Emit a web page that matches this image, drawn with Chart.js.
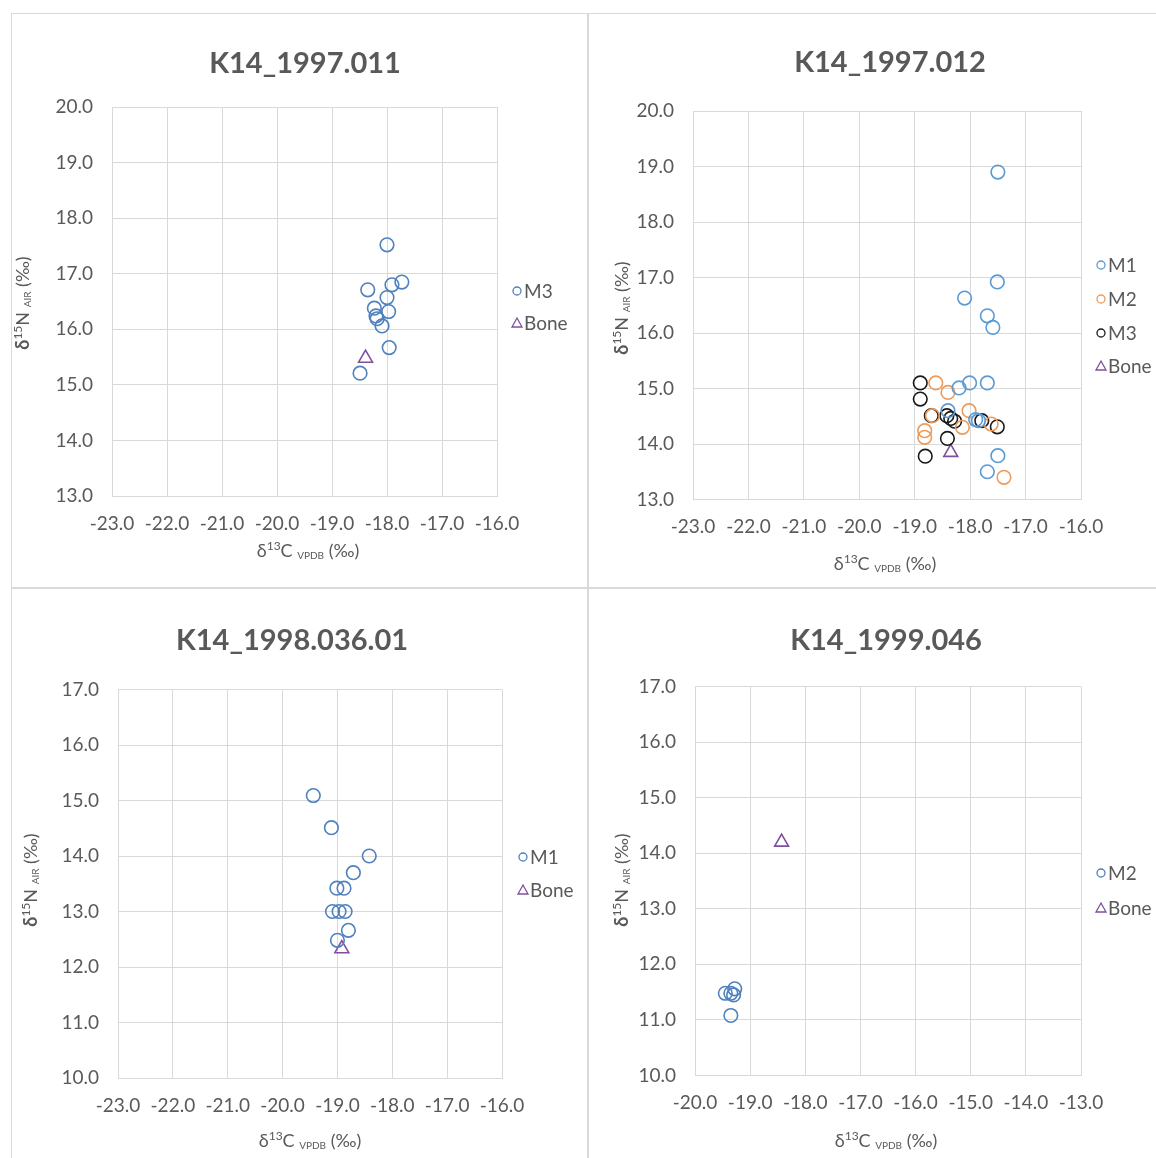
<!DOCTYPE html>
<html>
<head>
<meta charset="utf-8">
<script src="https://cdn.jsdelivr.net/npm/chart.js@4.4.1/dist/chart.umd.min.js"></script>
<style>
  html, body { margin: 0; padding: 0; background: #fff; overflow: hidden; }
  body { width: 1156px; height: 1158px; position: relative; }
  .panel { position: absolute; border: 1px solid #d9d9d9; background: #fff; }
  .panel canvas { display: block; }
</style>
</head>
<body>
<div class="panel" id="p1"><canvas id="c1"></canvas></div>
<div class="panel" id="p2"><canvas id="c2"></canvas></div>
<div class="panel" id="p3"><canvas id="c3"></canvas></div>
<div class="panel" id="p4"><canvas id="c4"></canvas></div>
<script>
// ---- data (d13C VPDB, d15N AIR) ----
const titles = ['K14_1997.011', 'K14_1997.012', 'K14_1998.036.01', 'K14_1999.046'];

// K14_1997.011
const c1M3 = [-18.0, -17.73, -17.91, -18.35, -18.0, -18.23, -17.97, -18.2, -18.18, -18.09, -17.96, -18.49];
const n1M3 = [17.52, 16.85, 16.8, 16.71, 16.57, 16.38, 16.32, 16.24, 16.19, 16.06, 15.67, 15.21];
const c1Bone = [-18.39];
const n1Bone = [15.48];

// K14_1997.012
const c2M1 = [-17.5, -17.51, -18.1, -17.69, -17.59, -18.2, -18.01, -17.69, -18.4, -17.9, -17.85, -17.5, -17.69];
const n2M1 = [18.9, 16.92, 16.63, 16.31, 16.1, 15.01, 15.1, 15.1, 14.6, 14.44, 14.42, 13.79, 13.5];
const c2M2 = [-18.62, -18.4, -18.02, -18.14, -17.62, -18.82, -18.82, -18.68, -17.39];
const n2M2 = [15.1, 14.93, 14.6, 14.3, 14.36, 14.24, 14.12, 14.51, 13.4];
const c2M3 = [-18.9, -18.9, -18.7, -18.42, -18.35, -18.28, -17.79, -17.51, -18.41, -18.81];
const n2M3 = [15.1, 14.81, 14.51, 14.51, 14.46, 14.41, 14.42, 14.31, 14.1, 13.78];
const c2Bone = [-18.35];
const n2Bone = [13.85];

// K14_1998.036.01
const c3M1 = [-19.44, -19.11, -18.42, -18.71, -19.01, -18.88, -19.09, -18.97, -18.86, -18.8, -19.0];
const n3M1 = [15.09, 14.51, 14.0, 13.7, 13.42, 13.42, 13.0, 13.0, 13.0, 12.66, 12.48];
const c3Bone = [-18.92];
const n3Bone = [12.33];

// K14_1999.046
const c4M2 = [-19.45, -19.35, -19.28, -19.3, -19.35];
const n4M2 = [11.48, 11.48, 11.56, 11.45, 11.08];
const c4Bone = [-18.43];
const n4Bone = [14.2];

// axis ranges
const xRange = [[-23, -16], [-23, -16], [-23, -16], [-20, -13]];
const yRange = [[13, 20], [13, 20], [10, 17], [10, 17]];

const BLUE = '#4f81bd';
const LBLUE = '#5b9bd5';
const ORANGE = '#ee9a58';
const BLACK = '#1a1a1a';
const PURPLE = '#7f4f9f';
const GRID = '#d9d9d9';
const TEXT = '#595959';
const FONT = 'Lato, "Open Sans", sans-serif';

function pts(xs, ys) { return xs.map((x, i) => ({ x, y: ys[i] })); }

function circles(label, xs, ys, color) {
  return { label, data: pts(xs, ys), pointStyle: 'circle', pointRadius: 6.8,
           borderColor: color, backgroundColor: 'rgba(0,0,0,0)', borderWidth: 1.6 };
}
function bone(xs, ys) {
  return { label: 'Bone', data: pts(xs, ys), pointStyle: 'triangle', pointRadius: 8,
           borderColor: PURPLE, backgroundColor: 'rgba(0,0,0,0)', borderWidth: 1.6 };
}

const seriesSets = [
  [circles('M3', c1M3, n1M3, BLUE), bone(c1Bone, n1Bone)],
  [circles('M1', c2M1, n2M1, LBLUE), circles('M2', c2M2, n2M2, ORANGE),
   circles('M3', c2M3, n2M3, BLACK), bone(c2Bone, n2Bone)],
  [circles('M1', c3M1, n3M1, BLUE), bone(c3Bone, n3Bone)],
  [circles('M2', c4M2, n4M2, BLUE), bone(c4Bone, n4Bone)]
];

// ---- layout (page pixels) ----
const layouts = [
  { box: [11, 13, 577, 575], area: [112, 497, 107, 496], title: [305, 64], xt: [308, 550], yt: [22, 303], leg: [517, [291, 323]] },
  { box: [588, 13, 577, 575], area: [693, 1081, 111, 499.5], title: [890, 63], xt: [885, 563], yt: [621, 308], leg: [1101, [265, 299, 333, 366]] },
  { box: [11, 588, 577, 577], area: [118, 502, 689.5, 1078], title: [292, 641], xt: [310, 1140], yt: [30, 880], leg: [523, [857, 890]] },
  { box: [588, 588, 577, 577], area: [695, 1081, 686.5, 1075.5], title: [886, 641], xt: [886, 1140], yt: [621, 880], leg: [1101, [873, 908]] }
];

function richText(ctx, parts, cx, cy) {
  let w = 0;
  parts.forEach(p => { ctx.font = p.w + ' ' + p.s + 'px ' + FONT; p.width = ctx.measureText(p.t).width; w += p.width; });
  let x = cx - w / 2;
  ctx.textAlign = 'left';
  ctx.textBaseline = 'alphabetic';
  parts.forEach(p => {
    ctx.font = p.w + ' ' + p.s + 'px ' + FONT;
    ctx.fillText(p.t, x, cy + (p.dy || 0));
    x += p.width;
  });
}

const decor = {
  id: 'decor',
  afterDraw(chart) {
    const L = chart.options.plugins.decor;
    const ox = L.box[0] + 1, oy = L.box[1] + 1;
    const ctx = chart.ctx;
    ctx.save();
    ctx.fillStyle = TEXT;
    // title
    ctx.font = 'bold 29px ' + FONT;
    ctx.textAlign = 'center';
    ctx.textBaseline = 'middle';
    ctx.fillText(L.name, L.title[0] - ox, L.title[1] - oy);
    // x axis title
    richText(ctx, [
      { t: 'δ', s: 18, w: 'normal' },
      { t: '13', s: 12, w: 'normal', dy: -7 },
      { t: 'C ', s: 18, w: 'normal' },
      { t: 'VPDB', s: 10, w: 'normal', dy: 2 },
      { t: ' (‰)', s: 18, w: 'normal' }
    ], L.xt[0] - ox, L.xt[1] - oy + 7);
    // y axis title
    ctx.save();
    ctx.translate(L.yt[0] - ox + 7, L.yt[1] - oy);
    ctx.rotate(-Math.PI / 2);
    richText(ctx, [
      { t: 'δ', s: 18, w: 'bold' },
      { t: '15', s: 12, w: 'normal', dy: -7 },
      { t: 'N ', s: 18, w: 'normal' },
      { t: 'AIR', s: 10, w: 'normal', dy: 2 },
      { t: ' (‰)', s: 18, w: 'normal' }
    ], 0, 0);
    ctx.restore();
    // legend
    chart.data.datasets.forEach((ds, i) => {
      const mx = L.leg[0] - ox, my = L.leg[1][i] - oy;
      ctx.strokeStyle = ds.borderColor;
      ctx.lineWidth = 1.3;
      ctx.beginPath();
      if (ds.pointStyle === 'triangle') {
        ctx.moveTo(mx, my - 5);
        ctx.lineTo(mx + 5, my + 4);
        ctx.lineTo(mx - 5, my + 4);
        ctx.closePath();
      } else {
        ctx.arc(mx, my, 4, 0, Math.PI * 2);
      }
      ctx.stroke();
      ctx.fillStyle = TEXT;
      ctx.font = '19px ' + FONT;
      ctx.textAlign = 'left';
      ctx.textBaseline = 'middle';
      ctx.fillText(ds.label, mx + 7, my + 1);
    });
    ctx.restore();
  }
};

const AXW = 60, AXH = 60;

layouts.forEach((L, k) => {
  const div = document.getElementById('p' + (k + 1));
  const [bx, by, bw, bh] = L.box;
  div.style.left = bx + 'px';
  div.style.top = by + 'px';
  div.style.width = (bw - 2) + 'px';
  div.style.height = (bh - 2) + 'px';
  const cv = document.getElementById('c' + (k + 1));
  const W = bw - 2, H = bh - 2;
  cv.width = W; cv.height = H;
  cv.style.width = W + 'px'; cv.style.height = H + 'px';
  const ox = bx + 1, oy = by + 1;
  const [al, ar, at, ab] = L.area;
  const pad = {
    left: al - ox - AXW,
    right: W - (ar - ox),
    top: at - oy,
    bottom: H - (ab - oy) - AXH
  };
  L.name = titles[k];
  const tickFont = { family: FONT, size: 19 };
  new Chart(cv, {
    type: 'scatter',
    data: { datasets: seriesSets[k] },
    options: {
      responsive: false,
      animation: false,
      devicePixelRatio: 1,
      layout: { padding: pad },
      plugins: { legend: { display: false }, title: { display: false }, tooltip: { enabled: false }, decor: L },
      scales: {
        x: {
          type: 'linear', min: xRange[k][0], max: xRange[k][1],
          ticks: { stepSize: 1, autoSkip: false, maxRotation: 0, color: TEXT, font: tickFont, padding: 16,
                   callback: v => Number(v).toFixed(1) },
          grid: { color: GRID, drawTicks: false },
          border: { color: GRID },
          afterFit: a => { a.height = AXH; }
        },
        y: {
          type: 'linear', min: yRange[k][0], max: yRange[k][1],
          ticks: { stepSize: 1, autoSkip: false, color: TEXT, font: tickFont, padding: 19,
                   callback: v => Number(v).toFixed(1) },
          grid: { color: GRID, drawTicks: false },
          border: { color: GRID },
          afterFit: a => { a.width = AXW; }
        }
      }
    },
    plugins: [decor]
  });
});
</script>
</body>
</html>
